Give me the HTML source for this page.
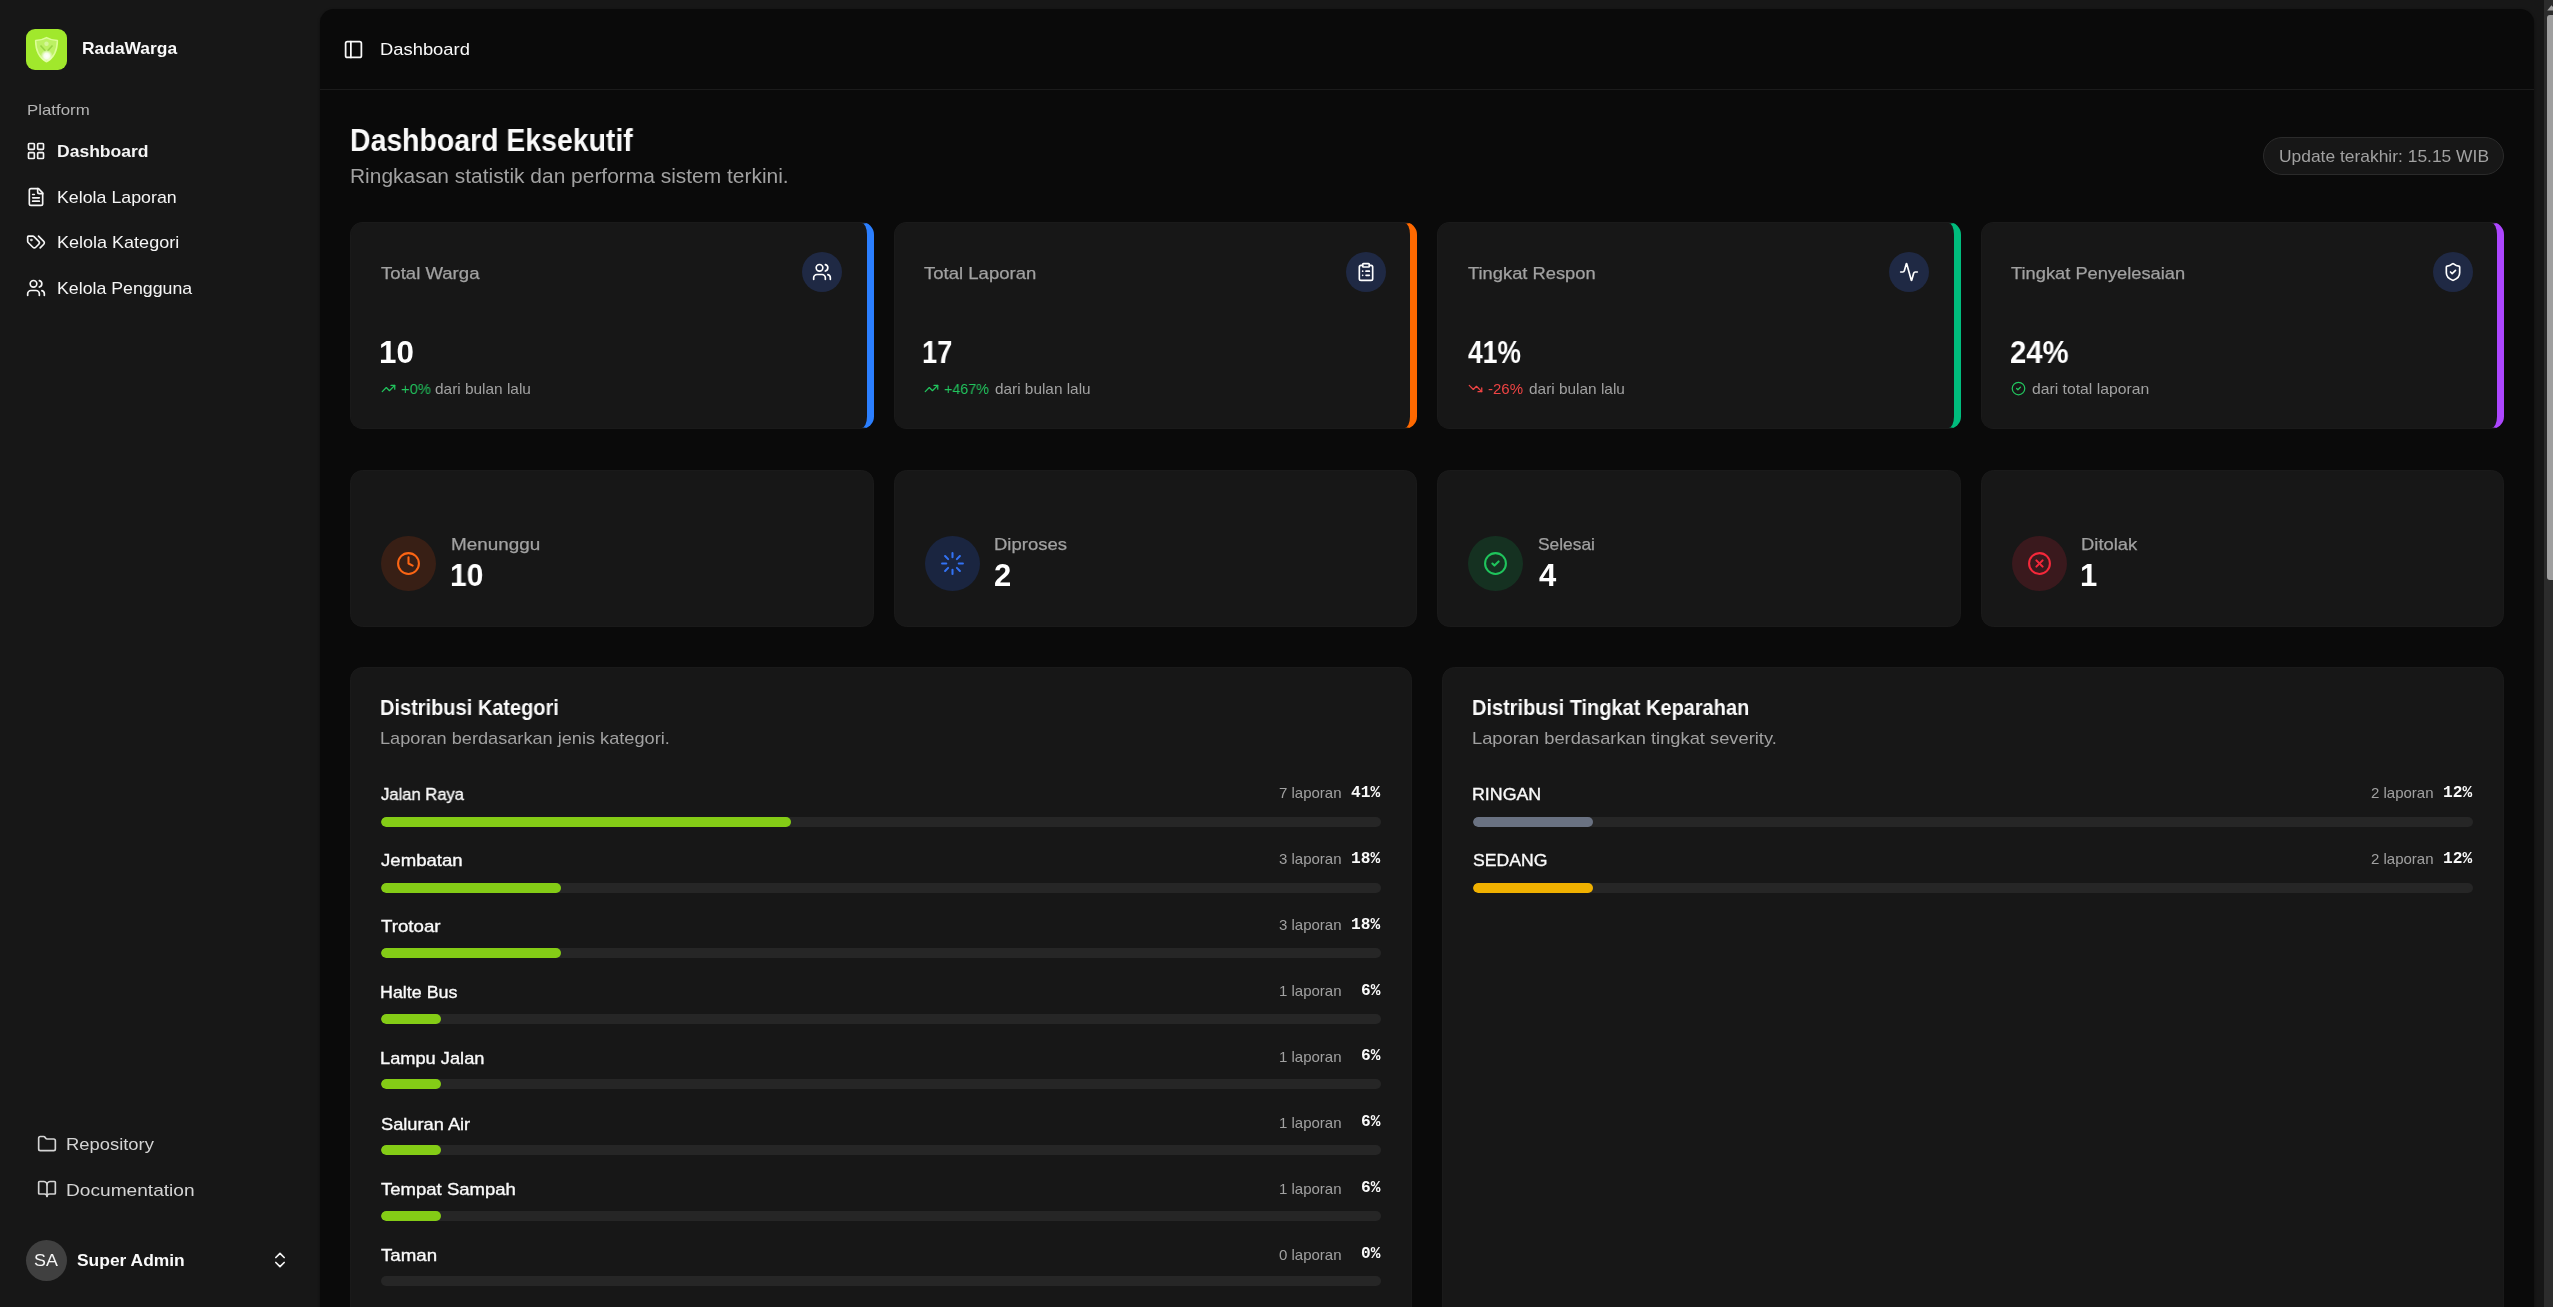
<!DOCTYPE html>
<html lang="id">
<head>
<meta charset="utf-8">
<title>Dashboard - RadaWarga</title>
<style>
*{box-sizing:border-box;margin:0;padding:0}
html,body{width:2553px;height:1307px;overflow:hidden;background:#171717}
body{font-family:"Liberation Sans",sans-serif;color:#fafafa;position:relative;-webkit-font-smoothing:antialiased}
.abs{position:absolute}
.t{position:absolute;white-space:nowrap;line-height:1;will-change:transform}
svg{display:block}
.ic{position:absolute;fill:none;stroke:currentColor;stroke-width:2;stroke-linecap:round;stroke-linejoin:round}

/* sidebar */
#sidebar{position:absolute;left:0;top:0;width:320px;height:1307px;background:#171717}
.nav{font-size:17.5px;color:#f0f0f0}
.b{font-weight:bold}

/* main */
#main{position:absolute;left:320px;top:9px;width:2214px;height:1320px;background:#0a0a0a;border-radius:14px 14px 0 0;box-shadow:0 1px 3px rgba(0,0,0,.4)}
#hdrline{position:absolute;left:320px;top:89px;width:2214px;height:1px;background:#1b1b1b}

.card{position:absolute;background:#171717;border:1px solid #1a1a1a;border-radius:12.5px;overflow:hidden}
.muted{color:#a1a1a1}
.stripe{position:absolute;right:-1px;top:-1px;bottom:-1px;width:9.5px}
.circ{position:absolute;border-radius:50%}
.track{position:absolute;height:10px;border-radius:5px;background:#262626;overflow:hidden}
.fill{position:absolute;left:0;top:0;height:10px;border-radius:5px}
.mono{font-family:"Liberation Mono",monospace;font-weight:bold}

/* scrollbar */
#sbtrack{position:absolute;left:2544px;top:0;width:9px;height:1307px;background:#2c2c2c}
#sbthumb{position:absolute;left:2547px;top:15px;width:6px;height:565px;background:#9f9f9f;border-radius:3px 0 0 3px}
</style>
</head>
<body>
<div id="sidebar"></div>
<div class="abs" style="left:26px;top:29px;width:41px;height:41px;border-radius:9px;background:#a1e82c;overflow:hidden"><svg viewBox="0 0 41 41" width="41" height="41"><defs><radialGradient id="lg" cx="50%" cy="50%" r="50%"><stop offset="0" stop-color="#fff" stop-opacity="1"/><stop offset="0.45" stop-color="#fff" stop-opacity="0.85"/><stop offset="1" stop-color="#fff" stop-opacity="0"/></radialGradient></defs><path d="M20.5 8.6C17 10.600 13 11.400 9.600 11.400 9.600 20 12.600 28.400 20.500 32.800 28.400 28.400 31.400 20 31.400 11.400 28 11.400 24 10.600 20.500 8.600Z" fill="rgba(235,255,190,0.38)" stroke="rgba(225,255,160,0.9)" stroke-width="1.5" stroke-linejoin="round"/><circle cx="20.5" cy="14.8" r="2.2" fill="rgba(255,255,255,0.35)"/><path d="M14.500 16.500l5 5.500M26.500 16.500l-5 5.500" stroke="rgba(120,190,40,0.55)" stroke-width="1.6" fill="none"/><circle cx="20.7" cy="27" r="6.2" fill="url(#lg)"/></svg></div>
<div class="t" id="t1" style="top:40px;font-size:17.0px;color:#fafafa;left:81.57px;font-weight:bold;transform:scaleX(1.0239);transform-origin:left center;">RadaWarga</div>
<div class="t" id="t2" style="top:102px;font-size:15px;color:#b4b4b4;left:26.51px;transform:scaleX(1.1222);transform-origin:left center;">Platform</div>
<svg class="ic" viewBox="0 0 24 24" width="20" height="20" style="left:26.00px;top:140.50px;color:#f5f5f5;stroke-width:2"><rect width="7" height="7" x="3" y="3" rx="1"/><rect width="7" height="7" x="14" y="3" rx="1"/><rect width="7" height="7" x="14" y="14" rx="1"/><rect width="7" height="7" x="3" y="14" rx="1"/></svg>
<div class="t" id="t3" style="top:143px;font-size:17.0px;color:#f5f5f5;left:56.97px;font-weight:bold;transform:scaleX(1.0310);transform-origin:left center;">Dashboard</div>
<svg class="ic" viewBox="0 0 24 24" width="20" height="20" style="left:26.00px;top:186.50px;color:#f5f5f5;stroke-width:2"><path d="M15 2H6a2 2 0 0 0-2 2v16a2 2 0 0 0 2 2h12a2 2 0 0 0 2-2V7Z"/><path d="M14 2v4a2 2 0 0 0 2 2h4"/><path d="M10 9H8"/><path d="M16 13H8"/><path d="M16 17H8"/></svg>
<div class="t" id="t4" style="top:189px;font-size:17.0px;color:#f5f5f5;left:56.95px;transform:scaleX(1.0469);transform-origin:left center;">Kelola Laporan</div>
<svg class="ic" viewBox="0 0 24 24" width="20" height="20" style="left:26.00px;top:231.80px;color:#f5f5f5;stroke-width:2"><path d="m15 5 6.3 6.3a2.4 2.4 0 0 1 0 3.4L17 19"/><path d="M9.586 5.586A2 2 0 0 0 8.172 5H3a1 1 0 0 0-1 1v5.172a2 2 0 0 0 .586 1.414L8.29 18.29a2.426 2.426 0 0 0 3.42 0l3.58-3.58a2.426 2.426 0 0 0 0-3.42z"/><circle cx="6.5" cy="9.5" r=".5" fill="currentColor"/></svg>
<div class="t" id="t5" style="top:234px;font-size:17.0px;color:#f5f5f5;left:56.94px;transform:scaleX(1.0596);transform-origin:left center;">Kelola Kategori</div>
<svg class="ic" viewBox="0 0 24 24" width="20" height="20" style="left:26.00px;top:277.50px;color:#f5f5f5;stroke-width:2"><path d="M16 21v-2a4 4 0 0 0-4-4H6a4 4 0 0 0-4 4v2"/><circle cx="9" cy="7" r="4"/><path d="M22 21v-2a4 4 0 0 0-3-3.87"/><path d="M16 3.13a4 4 0 0 1 0 7.75"/></svg>
<div class="t" id="t6" style="top:280px;font-size:17.0px;color:#f5f5f5;left:56.96px;transform:scaleX(1.0442);transform-origin:left center;">Kelola Pengguna</div>
<svg class="ic" viewBox="0 0 24 24" width="20" height="20" style="left:37.20px;top:1133.80px;color:#d4d4d4;stroke-width:2"><path d="M20 20a2 2 0 0 0 2-2V8a2 2 0 0 0-2-2h-7.9a2 2 0 0 1-1.69-.9L9.6 3.9A2 2 0 0 0 7.93 3H4a2 2 0 0 0-2 2v13a2 2 0 0 0 2 2Z"/></svg>
<div class="t" id="t7" style="top:1136px;font-size:17.0px;color:#d4d4d4;left:66.32px;transform:scaleX(1.0812);transform-origin:left center;">Repository</div>
<svg class="ic" viewBox="0 0 24 24" width="20" height="20" style="left:37.20px;top:1179.00px;color:#d4d4d4;stroke-width:2"><path d="M12 7v14"/><path d="M3 18a1 1 0 0 1-1-1V4a1 1 0 0 1 1-1h5a4 4 0 0 1 4 4 4 4 0 0 1 4-4h5a1 1 0 0 1 1 1v13a1 1 0 0 1-1 1h-6a3 3 0 0 0-3 3 3 3 0 0 0-3-3z"/></svg>
<div class="t" id="t8" style="top:1182px;font-size:17.0px;color:#d4d4d4;left:66.29px;transform:scaleX(1.1248);transform-origin:left center;">Documentation</div>
<div class="circ" style="left:26px;top:1240px;width:41px;height:41px;background:#404040"></div>
<div class="t" id="t9" style="top:1252px;font-size:17.0px;color:#f5f5f5;left:34.15px;transform:scaleX(1.0500);transform-origin:left center;">SA</div>
<div class="t" id="t10" style="top:1252px;font-size:17.0px;color:#fafafa;left:77.39px;font-weight:bold;transform:scaleX(1.0248);transform-origin:left center;">Super Admin</div>
<svg class="ic" viewBox="0 0 24 24" width="20" height="20" style="left:270.20px;top:1250.10px;color:#f5f5f5;stroke-width:2"><path d="m7 15 5 5 5-5"/><path d="m7 9 5-5 5 5"/></svg>
<div id="main"></div>
<div id="hdrline"></div>
<svg class="ic" viewBox="0 0 24 24" width="21" height="21" style="left:342.80px;top:38.50px;color:#fafafa;stroke-width:2"><rect width="18" height="18" x="3" y="3" rx="2"/><path d="M9 3v18"/></svg>
<div class="t" id="t11" style="top:41px;font-size:17.0px;color:#fafafa;left:379.92px;transform:scaleX(1.0805);transform-origin:left center;">Dashboard</div>
<div class="t" id="t12" style="top:125px;font-size:31px;color:#fafafa;left:349.74px;font-weight:bold;transform:scaleX(0.9169);transform-origin:left center;">Dashboard Eksekutif</div>
<div class="t" id="t13" style="top:166px;font-size:20px;color:#a1a1a1;left:349.93px;transform:scaleX(1.0468);transform-origin:left center;">Ringkasan statistik dan performa sistem terkini.</div>
<div class="abs" style="left:2263px;top:137px;width:241px;height:38px;border-radius:19px;background:#171717;border:1px solid #2b2b2b"></div>
<div class="t" id="t14" style="top:148px;font-size:17.0px;color:#a1a1a1;left:2278.78px;transform:scaleX(1.0241);transform-origin:left center;">Update terakhir: 15.15 WIB</div>
<div class="card" style="left:350px;top:222px;width:523.5px;height:206.5px;border-right:7.5px solid #2b7fff"></div>
<div class="t" id="t15" style="top:265px;font-size:17.0px;color:#a1a1a1;left:381.40px;transform:scaleX(1.0933);transform-origin:left center;-webkit-text-stroke:0.25px #a1a1a1;">Total Warga</div>
<div class="circ" style="left:802.4px;top:252px;width:40px;height:40px;background:#1f2944"></div>
<svg class="ic" viewBox="0 0 24 24" width="20" height="20" style="left:812.40px;top:262.20px;color:#ffffff;stroke-width:2"><path d="M16 21v-2a4 4 0 0 0-4-4H6a4 4 0 0 0-4 4v2"/><circle cx="9" cy="7" r="4"/><path d="M22 21v-2a4 4 0 0 0-3-3.87"/><path d="M16 3.13a4 4 0 0 1 0 7.75"/></svg>
<div class="t" id="t16" style="top:337px;font-size:31px;color:#ffffff;left:378.78px;font-weight:bold;transform:scaleX(1.0094);transform-origin:left center;">10</div>
<svg class="ic" viewBox="0 0 24 24" width="15" height="15" style="left:380.90px;top:381.10px;color:#22c55e;stroke-width:2"><polyline points="22 7 13.5 15.5 8.5 10.5 2 17"/><polyline points="16 7 22 7 22 13"/></svg>
<div class="t" id="t17" style="top:381px;font-size:15px;color:#22c55e;left:401.38px;transform:scaleX(0.9833);transform-origin:left center;">+0%</div>
<div class="t" id="t18" style="top:381px;font-size:15px;color:#a1a1a1;left:435.38px;transform:scaleX(1.0269);transform-origin:left center;">dari bulan lalu</div>
<div class="card" style="left:893.5px;top:222px;width:523.5px;height:206.5px;border-right:7.5px solid #ff6900"></div>
<div class="t" id="t19" style="top:265px;font-size:17.0px;color:#a1a1a1;left:924.36px;transform:scaleX(1.0902);transform-origin:left center;-webkit-text-stroke:0.25px #a1a1a1;">Total Laporan</div>
<div class="circ" style="left:1345.9px;top:252px;width:40px;height:40px;background:#1f2944"></div>
<svg class="ic" viewBox="0 0 24 24" width="20" height="20" style="left:1355.90px;top:262.20px;color:#ffffff;stroke-width:2"><rect width="8" height="4" x="8" y="2" rx="1" ry="1"/><path d="M16 4h2a2 2 0 0 1 2 2v14a2 2 0 0 1-2 2H6a2 2 0 0 1-2-2V6a2 2 0 0 1 2-2h2"/><path d="M12 11h4"/><path d="M12 16h4"/><path d="M8 11h.01"/><path d="M8 16h.01"/></svg>
<div class="t" id="t20" style="top:337px;font-size:31px;color:#ffffff;left:922.05px;font-weight:bold;transform:scaleX(0.8781);transform-origin:left center;">17</div>
<svg class="ic" viewBox="0 0 24 24" width="15" height="15" style="left:924.40px;top:381.10px;color:#22c55e;stroke-width:2"><polyline points="22 7 13.5 15.5 8.5 10.5 2 17"/><polyline points="16 7 22 7 22 13"/></svg>
<div class="t" id="t21" style="top:381px;font-size:15px;color:#22c55e;left:944.40px;transform:scaleX(0.9532);transform-origin:left center;">+467%</div>
<div class="t" id="t22" style="top:381px;font-size:15px;color:#a1a1a1;left:994.59px;transform:scaleX(1.0237);transform-origin:left center;">dari bulan lalu</div>
<div class="card" style="left:1437px;top:222px;width:523.5px;height:206.5px;border-right:7.5px solid #00bc7d"></div>
<div class="t" id="t23" style="top:265px;font-size:17.0px;color:#a1a1a1;left:1468.40px;transform:scaleX(1.0780);transform-origin:left center;-webkit-text-stroke:0.25px #a1a1a1;">Tingkat Respon</div>
<div class="circ" style="left:1889.4px;top:252px;width:40px;height:40px;background:#1f2944"></div>
<svg class="ic" viewBox="0 0 24 24" width="20" height="20" style="left:1899.40px;top:262.20px;color:#ffffff;stroke-width:2"><path d="M22 12h-2.48a2 2 0 0 0-1.93 1.46l-2.35 8.36a.25.25 0 0 1-.48 0L9.24 2.18a.25.25 0 0 0-.48 0l-2.35 8.36A2 2 0 0 1 4.49 12H2"/></svg>
<div class="t" id="t24" style="top:337px;font-size:31px;color:#ffffff;left:1467.73px;font-weight:bold;transform:scaleX(0.8532);transform-origin:left center;">41%</div>
<svg class="ic" viewBox="0 0 24 24" width="15" height="15" style="left:1467.90px;top:381.10px;color:#ef4444;stroke-width:2"><polyline points="22 17 13.5 8.5 8.5 13.5 2 7"/><polyline points="16 17 22 17 22 11"/></svg>
<div class="t" id="t25" style="top:381px;font-size:15px;color:#ef4444;left:1488.39px;transform:scaleX(0.9886);transform-origin:left center;">-26%</div>
<div class="t" id="t26" style="top:381px;font-size:15px;color:#a1a1a1;left:1528.60px;transform:scaleX(1.0269);transform-origin:left center;">dari bulan lalu</div>
<div class="card" style="left:1980.5px;top:222px;width:523.5px;height:206.5px;border-right:7.5px solid #ad46ff"></div>
<div class="t" id="t27" style="top:265px;font-size:17.0px;color:#a1a1a1;left:2011.36px;transform:scaleX(1.0758);transform-origin:left center;-webkit-text-stroke:0.25px #a1a1a1;">Tingkat Penyelesaian</div>
<div class="circ" style="left:2432.9px;top:252px;width:40px;height:40px;background:#1f2944"></div>
<svg class="ic" viewBox="0 0 24 24" width="20" height="20" style="left:2442.90px;top:262.20px;color:#ffffff;stroke-width:2"><path d="M20 13c0 5-3.5 7.5-7.66 8.95a1 1 0 0 1-.67-.01C7.5 20.5 4 18 4 13V6a1 1 0 0 1 1-1c2 0 4.5-1.2 6.24-2.72a1.17 1.17 0 0 1 1.52 0C14.51 3.81 17 5 19 5a1 1 0 0 1 1 1z"/><path d="m9 12 2 2 4-4"/></svg>
<div class="t" id="t28" style="top:337px;font-size:31px;color:#ffffff;left:2009.85px;font-weight:bold;transform:scaleX(0.9443);transform-origin:left center;">24%</div>
<svg class="ic" viewBox="0 0 24 24" width="15" height="15" style="left:2011.40px;top:381.10px;color:#22c55e;stroke-width:2"><circle cx="12" cy="12" r="10"/><path d="m9 12 2 2 4-4"/></svg>
<div class="t" id="t29" style="top:381px;font-size:15px;color:#a1a1a1;left:2031.61px;transform:scaleX(1.0486);transform-origin:left center;">dari total laporan</div>
<div class="card" style="left:350px;top:470px;width:523.5px;height:157px"></div>
<div class="circ" style="left:381.0px;top:536px;width:55px;height:55px;background:rgb(56,31,21)"></div>
<svg class="ic" viewBox="0 0 24 24" width="25" height="25" style="left:396.00px;top:551.00px;color:#fb6514;stroke-width:2"><circle cx="12" cy="12" r="10"/><polyline points="12 6 12 12 16 14"/></svg>
<div class="t" id="t30" style="top:536px;font-size:17.0px;color:#a1a1a1;left:451.46px;transform:scaleX(1.1101);transform-origin:left center;-webkit-text-stroke:0.25px #a1a1a1;">Menunggu</div>
<div class="t" id="t31" style="top:560px;font-size:31px;color:#ffffff;left:450.09px;font-weight:bold;transform:scaleX(0.9656);transform-origin:left center;">10</div>
<div class="card" style="left:893.5px;top:470px;width:523.5px;height:157px"></div>
<div class="circ" style="left:924.5px;top:536px;width:55px;height:55px;background:rgb(26,37,64)"></div>
<svg class="ic" viewBox="0 0 24 24" width="25" height="25" style="left:939.50px;top:551.00px;color:#3272f4;stroke-width:2"><path d="M12 2v4"/><path d="m16.2 7.8 2.9-2.9"/><path d="M18 12h4"/><path d="m16.2 16.2 2.9 2.9"/><path d="M12 18v4"/><path d="m4.9 19.1 2.9-2.9"/><path d="M2 12h4"/><path d="m4.9 4.9 2.9 2.9"/></svg>
<div class="t" id="t32" style="top:536px;font-size:17.0px;color:#a1a1a1;left:993.87px;transform:scaleX(1.0879);transform-origin:left center;-webkit-text-stroke:0.25px #a1a1a1;">Diproses</div>
<div class="t" id="t33" style="top:560px;font-size:31px;color:#ffffff;left:994.39px;font-weight:bold;">2</div>
<div class="card" style="left:1437px;top:470px;width:523.5px;height:157px"></div>
<div class="circ" style="left:1468.0px;top:536px;width:55px;height:55px;background:rgb(21,49,33)"></div>
<svg class="ic" viewBox="0 0 24 24" width="25" height="25" style="left:1483.00px;top:551.00px;color:#1fc45c;stroke-width:2"><circle cx="12" cy="12" r="10"/><path d="m9 12 2 2 4-4"/></svg>
<div class="t" id="t34" style="top:536px;font-size:17.0px;color:#a1a1a1;left:1538.18px;transform:scaleX(1.0218);transform-origin:left center;-webkit-text-stroke:0.25px #a1a1a1;">Selesai</div>
<div class="t" id="t35" style="top:560px;font-size:31px;color:#ffffff;left:1538.60px;font-weight:bold;">4</div>
<div class="card" style="left:1980.5px;top:470px;width:523.5px;height:157px"></div>
<div class="circ" style="left:2011.5px;top:536px;width:55px;height:55px;background:rgb(58,25,29)"></div>
<svg class="ic" viewBox="0 0 24 24" width="25" height="25" style="left:2026.50px;top:551.00px;color:#f5283a;stroke-width:2"><circle cx="12" cy="12" r="10"/><path d="m15 9-6 6"/><path d="m9 9 6 6"/></svg>
<div class="t" id="t36" style="top:536px;font-size:17.0px;color:#a1a1a1;left:2081.12px;transform:scaleX(1.0824);transform-origin:left center;-webkit-text-stroke:0.25px #a1a1a1;">Ditolak</div>
<div class="t" id="t37" style="top:560px;font-size:31px;color:#ffffff;left:2079.60px;font-weight:bold;">1</div>
<div class="card" style="left:350px;top:667px;width:1062px;height:700px"></div>
<div class="t" id="t38" style="top:698px;font-size:21.5px;color:#fafafa;left:380.07px;font-weight:bold;transform:scaleX(0.9300);transform-origin:left center;">Distribusi Kategori</div>
<div class="t" id="t39" style="top:730px;font-size:17.0px;color:#a1a1a1;left:379.93px;transform:scaleX(1.0684);transform-origin:left center;">Laporan berdasarkan jenis kategori.</div>
<div class="t" id="t40" style="top:786px;font-size:17.0px;color:#fafafa;left:381.00px;transform:scaleX(0.9767);transform-origin:left center;-webkit-text-stroke:0.35px #fafafa;">Jalan Raya</div>
<div class="t" id="t41" style="top:785px;font-size:16.2px;color:#fafafa;right:1172.39px;font-weight:bold;font-family:'Liberation Mono',monospace;">41%</div>
<div class="t" id="t42" style="top:785px;font-size:15px;color:#a1a1a1;right:1211.39px;">7 laporan</div>
<div class="track" style="left:381px;top:817.0px;width:1000.3px"><div class="fill" style="width:410px;background:#84cc16"></div></div>
<div class="t" id="t43" style="top:852px;font-size:17.0px;color:#fafafa;left:381.00px;transform:scaleX(1.0946);transform-origin:left center;-webkit-text-stroke:0.35px #fafafa;">Jembatan</div>
<div class="t" id="t44" style="top:851px;font-size:16.2px;color:#fafafa;right:1172.39px;font-weight:bold;font-family:'Liberation Mono',monospace;">18%</div>
<div class="t" id="t45" style="top:851px;font-size:15px;color:#a1a1a1;right:1211.39px;">3 laporan</div>
<div class="track" style="left:381px;top:882.6px;width:1000.3px"><div class="fill" style="width:180px;background:#84cc16"></div></div>
<div class="t" id="t46" style="top:918px;font-size:17.0px;color:#fafafa;left:381.00px;transform:scaleX(1.1000);transform-origin:left center;-webkit-text-stroke:0.35px #fafafa;">Trotoar</div>
<div class="t" id="t47" style="top:917px;font-size:16.2px;color:#fafafa;right:1172.39px;font-weight:bold;font-family:'Liberation Mono',monospace;">18%</div>
<div class="t" id="t48" style="top:917px;font-size:15px;color:#a1a1a1;right:1211.39px;">3 laporan</div>
<div class="track" style="left:381px;top:948.2px;width:1000.3px"><div class="fill" style="width:180px;background:#84cc16"></div></div>
<div class="t" id="t49" style="top:984px;font-size:17.0px;color:#fafafa;left:379.95px;transform:scaleX(1.0507);transform-origin:left center;-webkit-text-stroke:0.35px #fafafa;">Halte Bus</div>
<div class="t" id="t50" style="top:983px;font-size:16.2px;color:#fafafa;right:1172.39px;font-weight:bold;font-family:'Liberation Mono',monospace;">6%</div>
<div class="t" id="t51" style="top:983px;font-size:15px;color:#a1a1a1;right:1211.39px;">1 laporan</div>
<div class="track" style="left:381px;top:1013.8px;width:1000.3px"><div class="fill" style="width:60px;background:#84cc16"></div></div>
<div class="t" id="t52" style="top:1050px;font-size:17.0px;color:#fafafa;left:379.93px;transform:scaleX(1.0729);transform-origin:left center;-webkit-text-stroke:0.35px #fafafa;">Lampu Jalan</div>
<div class="t" id="t53" style="top:1048px;font-size:16.2px;color:#fafafa;right:1172.39px;font-weight:bold;font-family:'Liberation Mono',monospace;">6%</div>
<div class="t" id="t54" style="top:1049px;font-size:15px;color:#a1a1a1;right:1211.39px;">1 laporan</div>
<div class="track" style="left:381px;top:1079.4px;width:1000.3px"><div class="fill" style="width:60px;background:#84cc16"></div></div>
<div class="t" id="t55" style="top:1116px;font-size:17.0px;color:#fafafa;left:381.00px;transform:scaleX(1.0723);transform-origin:left center;-webkit-text-stroke:0.35px #fafafa;">Saluran Air</div>
<div class="t" id="t56" style="top:1114px;font-size:16.2px;color:#fafafa;right:1172.39px;font-weight:bold;font-family:'Liberation Mono',monospace;">6%</div>
<div class="t" id="t57" style="top:1115px;font-size:15px;color:#a1a1a1;right:1211.39px;">1 laporan</div>
<div class="track" style="left:381px;top:1145.0px;width:1000.3px"><div class="fill" style="width:60px;background:#84cc16"></div></div>
<div class="t" id="t58" style="top:1181px;font-size:17.0px;color:#fafafa;left:381.00px;transform:scaleX(1.0894);transform-origin:left center;-webkit-text-stroke:0.35px #fafafa;">Tempat Sampah</div>
<div class="t" id="t59" style="top:1180px;font-size:16.2px;color:#fafafa;right:1172.39px;font-weight:bold;font-family:'Liberation Mono',monospace;">6%</div>
<div class="t" id="t60" style="top:1181px;font-size:15px;color:#a1a1a1;right:1211.39px;">1 laporan</div>
<div class="track" style="left:381px;top:1210.6px;width:1000.3px"><div class="fill" style="width:60px;background:#84cc16"></div></div>
<div class="t" id="t61" style="top:1247px;font-size:17.0px;color:#fafafa;left:381.00px;transform:scaleX(1.1000);transform-origin:left center;-webkit-text-stroke:0.35px #fafafa;">Taman</div>
<div class="t" id="t62" style="top:1246px;font-size:16.2px;color:#fafafa;right:1172.39px;font-weight:bold;font-family:'Liberation Mono',monospace;">0%</div>
<div class="t" id="t63" style="top:1247px;font-size:15px;color:#a1a1a1;right:1211.39px;">0 laporan</div>
<div class="track" style="left:381px;top:1276.2px;width:1000.3px"><div class="fill" style="width:0px;background:#84cc16"></div></div>
<div class="card" style="left:1442px;top:667px;width:1062px;height:700px"></div>
<div class="t" id="t64" style="top:698px;font-size:21.5px;color:#fafafa;left:1472.07px;font-weight:bold;transform:scaleX(0.9294);transform-origin:left center;">Distribusi Tingkat Keparahan</div>
<div class="t" id="t65" style="top:730px;font-size:17.0px;color:#a1a1a1;left:1471.92px;transform:scaleX(1.0762);transform-origin:left center;">Laporan berdasarkan tingkat severity.</div>
<div class="t" id="t66" style="top:786px;font-size:17.0px;color:#fafafa;left:1471.95px;transform:scaleX(1.0469);transform-origin:left center;-webkit-text-stroke:0.35px #fafafa;">RINGAN</div>
<div class="t" id="t67" style="top:785px;font-size:16.2px;color:#fafafa;right:80.39px;font-weight:bold;font-family:'Liberation Mono',monospace;">12%</div>
<div class="t" id="t68" style="top:785px;font-size:15px;color:#a1a1a1;right:119.39px;">2 laporan</div>
<div class="track" style="left:1473px;top:817.0px;width:1000.3px"><div class="fill" style="width:120px;background:#6a7282"></div></div>
<div class="t" id="t69" style="top:852px;font-size:17.0px;color:#fafafa;left:1473.00px;transform:scaleX(1.0366);transform-origin:left center;-webkit-text-stroke:0.35px #fafafa;">SEDANG</div>
<div class="t" id="t70" style="top:851px;font-size:16.2px;color:#fafafa;right:80.39px;font-weight:bold;font-family:'Liberation Mono',monospace;">12%</div>
<div class="t" id="t71" style="top:851px;font-size:15px;color:#a1a1a1;right:119.39px;">2 laporan</div>
<div class="track" style="left:1473px;top:882.6px;width:1000.3px"><div class="fill" style="width:120px;background:#f0b100"></div></div>
<div id="sbtrack"></div><div id="sbthumb"></div>
<svg class="abs" style="left:2544px;top:0" width="9" height="15" viewBox="0 0 9 15"><path d="M3.2 10.500L7.500 5.200 11.800 10.500z" fill="#a0a0a0"/></svg>
</body>
</html>
